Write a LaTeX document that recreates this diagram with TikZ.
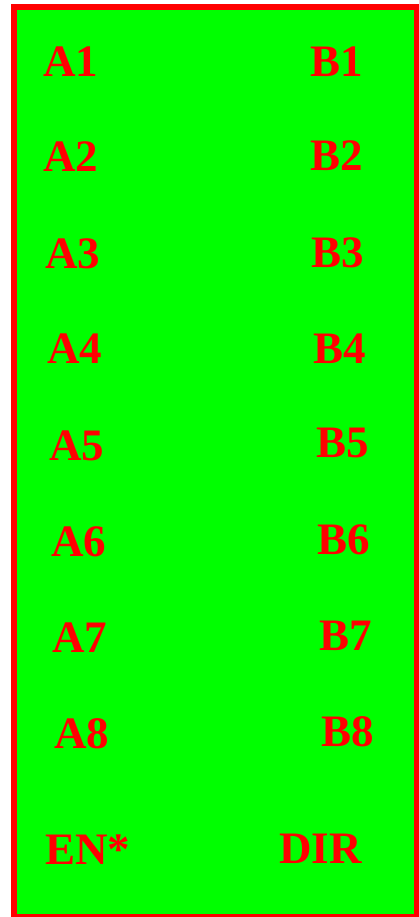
\documentclass[tikz,border=0pt]{standalone}
\usepackage{fontspec}
\setmainfont{Liberation Serif}
\definecolor{pinred}{RGB}{255,0,0}
\definecolor{chipgreen}{RGB}{0,255,0}

\begin{document}
\begin{tikzpicture}[x=1pt,y=-1pt,
  pin/.style={anchor=base west,inner sep=0pt,text=pinred,font=\fontsize{45}{45}\selectfont\bfseries}]
\clip (0,0) rectangle (419,917);
\filldraw[fill=chipgreen,draw=pinred,line width=6pt] (14,7) rectangle (417,917);
% A side
\node[pin] (a1) at (43,77) {A1};
\node[pin] (a2) at (43,172) {A2};
\node[pin] (a3) at (45,268) {A3};
\node[pin] (a4) at (47,363) {A4};
\node[pin] (a5) at (49,460) {A5};
\node[pin] (a6) at (51,556) {A6};
\node[pin] (a7) at (52,652) {A7};
\node[pin] (a8) at (54,748) {A8};
\node[pin] (en) at (45,864) {EN*};
% B side
\node[pin] (b1) at (310,77) {B1};
\node[pin] (b2) at (310,171) {B2};
\node[pin] (b3) at (311,267) {B3};
\node[pin] (b4) at (313,363) {B4};
\node[pin] (b5) at (316,457) {B5};
\node[pin] (b6) at (317,554) {B6};
\node[pin] (b7) at (319,650) {B7};
\node[pin] (b8) at (321,746) {B8};
\node[pin] (dir) at (279,863) {DIR};
\end{tikzpicture}
\end{document}
